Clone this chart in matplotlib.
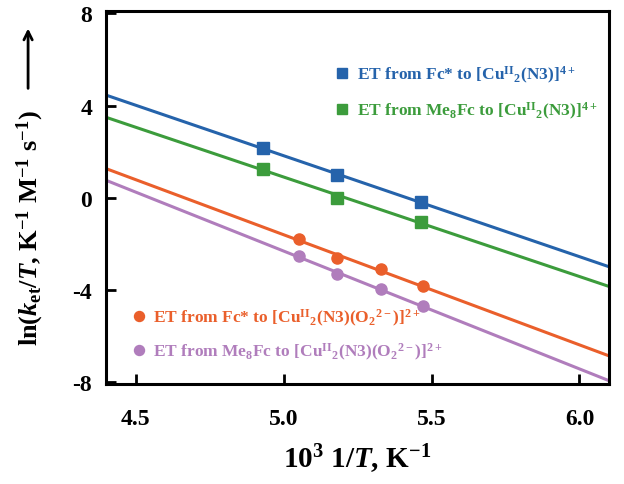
import numpy as np
import matplotlib
matplotlib.use("Agg")
import matplotlib.pyplot as plt

plt.rcParams['font.family'] = 'Liberation Serif'
plt.rcParams['font.weight'] = 'bold'
plt.rcParams['axes.unicode_minus'] = False
plt.rcParams['mathtext.fontset'] = 'custom'
plt.rcParams['mathtext.rm'] = 'Liberation Serif:bold'
plt.rcParams['mathtext.it'] = 'Liberation Serif:bold:italic'
plt.rcParams['mathtext.bf'] = 'Liberation Serif:bold'

# Data (10^3 1/T, ln(k_et/T))
x_sq = [4.93, 5.18, 5.465]
y_blue = [2.16, 0.97, -0.19]
y_green = [1.26, 0.00, -1.06]
x_ci = [5.051, 5.181, 5.329, 5.47]
y_orange = [-1.78, -2.62, -3.12, -3.86]
y_purple = [-2.55, -3.30, -3.99, -4.72]

labels = [
    r"ET from Fc* to [Cu$^{\rm II}$$_{\rm 2}$(N3)]$^{\rm 4+}$",
    r"ET from Me$_{\rm 8}$Fc to [Cu$^{\rm II}$$_{\rm 2}$(N3)]$^{\rm 4+}$",
    "ET from Fc* to [Cu$^{\\rm II}$$_{\\rm 2}$(N3)(O$_{\\rm 2}$$^{\\rm 2\u2212}$)]$^{\\rm 2+}$",
    "ET from Me$_{\\rm 8}$Fc to [Cu$^{\\rm II}$$_{\\rm 2}$(N3)(O$_{\\rm 2}$$^{\\rm 2\u2212}$)]$^{\\rm 2+}$",
]
colors = ['#2563AB', '#3C9C3C', '#EA5F2B', '#B07DBC']

fig = plt.figure(figsize=(6.24, 4.85), dpi=100)
ax = fig.add_axes([0.170, 0.206, 0.806, 0.769])
xlim = (4.4, 6.1)
ax.set_xlim(*xlim)
ax.set_ylim(-8.1, 8.1)

xx = np.array(xlim)
series = [(x_sq, y_blue, 's'), (x_sq, y_green, 's'), (x_ci, y_orange, 'o'), (x_ci, y_purple, 'o')]
handles = []
for (xs, ys, m), c, lab in zip(series, colors, labels):
    p = np.polyfit(xs, ys, 1)
    ax.plot(xx, np.polyval(p, xx), color=c, lw=2.2, zorder=2)
    h, = ax.plot(xs, ys, m, color=c, ms=8, label=lab, zorder=3)
    handles.append(h)

leg1 = ax.legend(handles=handles[:2], loc='upper left', bbox_to_anchor=(0.425, 0.90),
                 frameon=False, fontsize=12.5, handlelength=0.8, handletextpad=0.45,
                 labelspacing=0.85, labelcolor='linecolor', markerscale=0.9)
ax.add_artist(leg1)
ax.legend(handles=handles[2:], loc='upper left', bbox_to_anchor=(0.02, 0.25),
          frameon=False, fontsize=12.5, handlelength=0.8, handletextpad=0.45,
          labelspacing=0.75, labelcolor='linecolor', markerscale=0.9)

ax.set_xticks([4.5, 5.0, 5.5, 6.0])
ax.set_xticklabels(['4.5', '5.0', '5.5', '6.0'])
ax.set_yticks([-8, -4, 0, 4, 8])
ax.set_yticklabels(['-8', '-4', '0', '4', '8'])
ax.tick_params(direction='in', length=7, width=2, labelsize=17)
ax.tick_params(axis='x', pad=17)
ax.tick_params(axis='y', pad=10)
for s in ax.spines.values():
    s.set_linewidth(2.2)

ax.set_xlabel(r"10$^{\rm 3}$ 1/$T$, $\rm K^{-1}$", fontsize=21, fontweight='bold', labelpad=9)
fig.text(0.048, 0.53, r"ln($k_{\rm et}$/$T$, $\rm K^{-1}$ $\rm M^{-1}$ $\rm s^{-1}$)",
         rotation=90, fontsize=19, fontweight='bold', ha='center', va='center')
fig.add_artist(matplotlib.patches.FancyArrowPatch(
    (0.045, 0.81), (0.045, 0.945), transform=fig.transFigure,
    arrowstyle='->,head_length=6,head_width=3', lw=2, color='black',
    mutation_scale=1))

fig.savefig('out.png', dpi=100)
